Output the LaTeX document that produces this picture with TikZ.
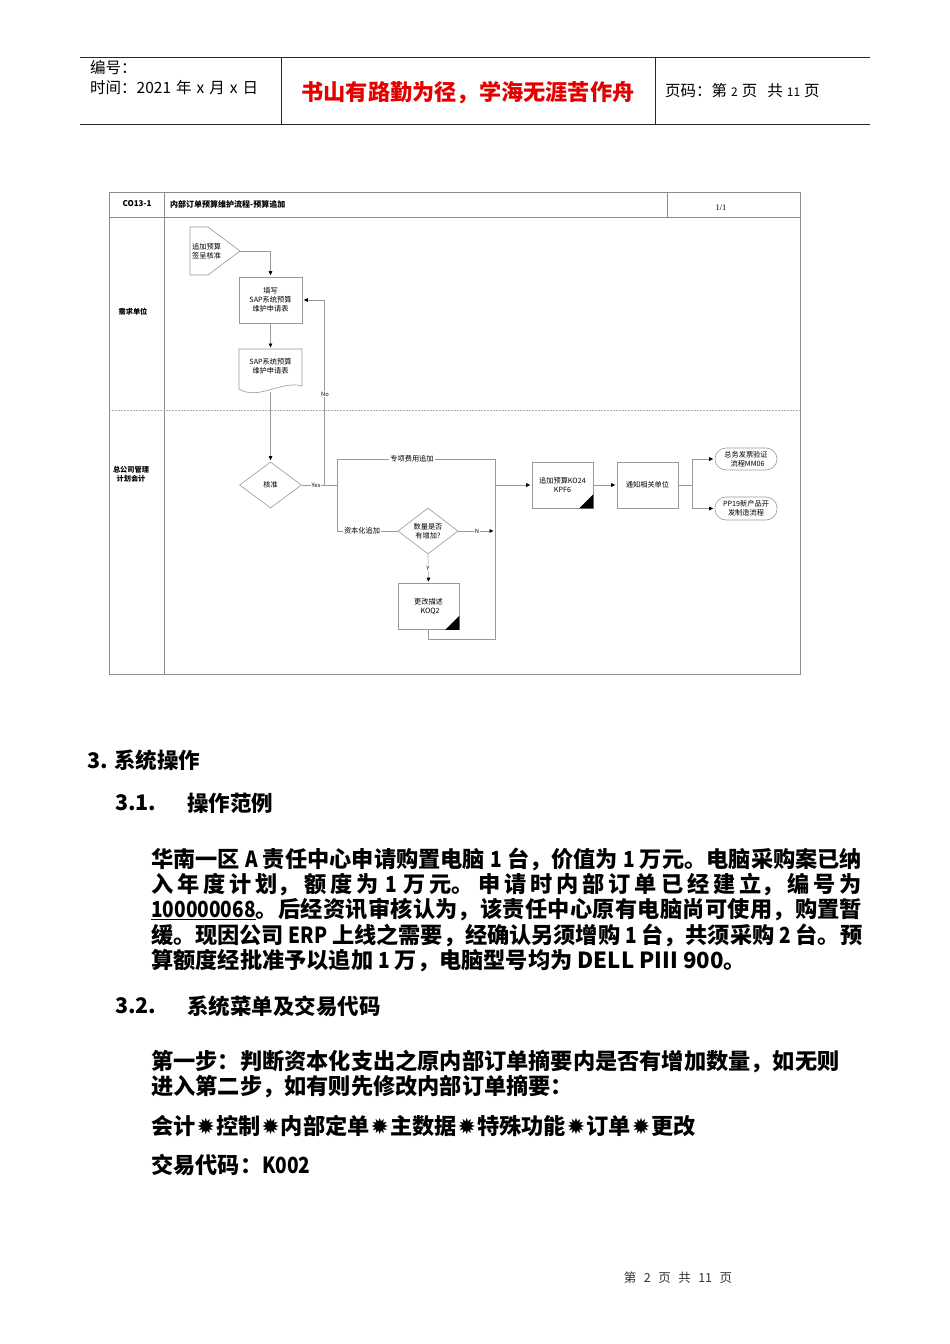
\documentclass[tikz,border=0pt]{standalone}
\usepackage{fontspec}
\usepackage{graphicx}
\setmainfont{Noto Sans CJK SC}
\newfontfamily\dejavu{DejaVu Sans}
\newfontfamily\lserif{Liberation Serif}
\usetikzlibrary{arrows.meta,shapes.geometric}
\newcommand\dfont{\fontsize{7.2}{9}\selectfont}
\newcommand\dsym{\hspace{1pt}{\dejavu\fontsize{22}{22}\selectfont ✹}\hspace{1pt}}
\newcommand\nlat[1]{\scalebox{0.86}[1]{#1}}
\newcommand\jline[1]{\parbox{711pt}{\XeTeXlinebreaklocale "zh"\XeTeXlinebreakskip=0pt plus 6pt minus 0.5pt\parfillskip=0pt\parindent=0pt\noindent #1}}
\tikzset{
  ln/.style={draw=black!40, line width=0.6pt},
  arr/.style={ln, -{Triangle[length=4pt,width=3.6pt,color=black]}, shorten >=1.5pt},
  box/.style={draw=black!40, line width=0.6pt, fill=white, minimum width=61, minimum height=46, inner sep=1pt, align=center, font=\dfont},
  dia/.style={diamond, draw=black!40, line width=0.6pt, fill=white, aspect=1.35, minimum width=62, minimum height=46, inner sep=0pt, align=center, font=\dfont},
  term/.style={draw=black!40, line width=0.6pt, fill=white, rounded corners=11pt, minimum width=62, minimum height=22, inner sep=0pt, align=center, font=\dfont},
  lbl/.style={fill=white, inner sep=1pt, font=\dfont},
  dtext/.style={font=\dfont, align=center, inner sep=0pt},
  hdr/.style={draw=black!85, line width=0.8pt},
  frame/.style={draw=black!45, line width=0.7pt},
  htext/.style={anchor=west, inner sep=0pt, font=\fontsize{15.5}{18}\selectfont},
  body/.style={anchor=west, inner sep=0pt, font=\bfseries\fontsize{22.2}{25.5}\selectfont},
  head/.style={anchor=west, inner sep=0pt, font=\bfseries\fontsize{21.5}{24}\selectfont},
}
\begin{document}
\begin{tikzpicture}[x=1pt,y=-1pt]
\useasboundingbox (0,0) rectangle (950,1344);
\fill[white] (0,0) rectangle (950,1344);

% ---------- header ----------
\draw[hdr] (80,57) -- (870,57);
\draw[hdr] (80,124) -- (870,124);
\draw[hdr] (281,57) -- (281,124);
\draw[hdr] (655,57) -- (655,124);
\node[htext] (hno) at (90,68) {编号：};
\node[htext] (htime) at (90,88) {时间：2021\hspace{5pt}年\hspace{5pt}x\hspace{5pt}月\hspace{5pt}x\hspace{5pt}日};
\node[anchor=center, inner sep=0pt, text=red!90!black, font=\bfseries\fontsize{22.2}{24}\selectfont] (hmotto) at (468,93) {书山有路勤为径，学海无涯苦作舟};
\node[htext] (hpage) at (665,91) {页码：第\hspace{4pt}{\fontsize{12}{14}\selectfont 2}\hspace{4pt}页\hspace{10pt}共\hspace{4pt}{\fontsize{12}{14}\selectfont 11}\hspace{4pt}页};

% ---------- diagram frame ----------
\draw[frame] (109,192) rectangle (800,674);
\draw[frame] (109,217) -- (800,217);
\draw[frame] (164,192) -- (164,674);
\draw[frame] (667,192) -- (667,217);
\draw[draw=black!30, line width=0.5pt, dash pattern=on 2pt off 1pt] (109,410) -- (800,410);
\node[inner sep=0pt, font=\bfseries\fontsize{8}{9}\selectfont] (tid) at (137,204) {CO13-1};
\node[anchor=west, inner sep=0pt, font=\bfseries\fontsize{8}{9}\selectfont] (ttl) at (170,204) {内部订单预算维护流程-预算追加};
\node[inner sep=0pt, font=\lserif\fontsize{8.5}{9}\selectfont] (tpg) at (721,208) {1/1};
\node[inner sep=0pt, font=\bfseries\dfont] (lane1) at (133,312) {需求单位};
\node[inner sep=0pt, align=center, font=\bfseries\dfont] (lane2) at (131,474) {总公司管理\\计划会计};

% off-page connector
\draw[ln, fill=white] (190,227) -- (208,227) -- (240,251) -- (208,275) -- (190,275) -- cycle;
\node[dtext, anchor=west, align=left] (sig) at (192,251) {追加预算\\签呈核准};
\coordinate (sigtip) at (240,251);

% boxes
\node[box, minimum width=63] (fillf) at (270.5,300) {填写\\SAP系统预算\\维护申请表};
\draw[ln, fill=white] (239,349) -- (302,349) -- (302,386) .. controls (282,380) and (258,401) .. (239,389) -- cycle;
\node[dtext] (doc) at (270.5,366) {SAP系统预算\\维护申请表};
\coordinate (doct) at (270.5,349);
\coordinate (docb) at (270.5,392);

\node[dia] (hz) at (270.5,485) {核准};
\node[dia, minimum width=60] (dia2) at (428,531) {数量是否\\有增加?};
\node[box] (koq) at (428.5,606.5) {更改描述\\\ \ KOQ2};
\fill (koq.south east) -- ++(0,-14) -- ++(-14,14) -- cycle;
\node[box] (ko24) at (562.5,485) {追加预算KO24\\KPF6};
\fill (ko24.south east) -- ++(0,-14) -- ++(-14,14) -- cycle;
\node[box] (tz) at (647.5,485) {通知相关单位};
\node[term] (t1) at (746,459) {总务发票验证\\\ \ 流程MM06};
\node[term, minimum height=23] (t2) at (746,508.5) {PP19新产品开\\发制造流程};

% junctions
\coordinate (jno) at (324,485);
\coordinate (j1) at (337,485);
\coordinate (j2) at (495,459);
\coordinate (jb) at (495,639);
\coordinate (jk) at (495,485);
\coordinate (jn) at (495,531);
\coordinate (jt2) at (692,485);

% connectors
\draw[arr] (sigtip) -| (fillf.north);
\draw[arr] (fillf.south) -- (doct);
\draw[arr] (docb) -- (hz.north);
\draw[ln] (hz.east) -- (j1);
\draw[arr] (jno) |- (fillf.east);
\draw[ln] (j1) |- (j2) -- (jb) -| (koq.south);
\draw[ln] (j1) |- (dia2.west);
\draw[arr] (dia2.east) -- (jn);
\draw[arr] (dia2.south) -- (koq.north);
\draw[arr] (jk) -- (ko24.west);
\draw[arr] (ko24.east) -- (tz.west);
\draw[ln] (tz.east) -- (jt2);
\draw[arr] (jt2) |- (t1.west);
\draw[arr] (jt2) |- (t2.west);

% labels
\node[lbl, font=\fontsize{5.8}{6}\selectfont] (lyes) at (316,485) {Yes};
\node[lbl, font=\fontsize{5.8}{6}\selectfont] (lno) at (325,394) {No};
\node[lbl] (lzx) at (412,459) {专项费用追加};
\node[lbl] (lzb) at (362,531) {资本化追加};
\node[lbl, font=\fontsize{5.8}{6}\selectfont] (ln) at (477,531) {N};
\node[lbl, font=\fontsize{5.8}{6}\selectfont] (ly) at (428,568) {Y};

% ---------- body text ----------
\node[head] (s3) at (87,760) {3. 系统操作};
\node[head] (s31) at (115,803) {3.1.};
\node[head] (s31t) at (187,803) {操作范例};
\node[body] (p1) at (151,859) {\jline{华南一区 \nlat{A} 责任中心申请购置电脑 \nlat{1} 台，价值为 \nlat{1} 万元。电脑采购案已纳}};
\node[body] (p2) at (151,884.5) {\jline{入年度计划，额度为 \nlat{1} 万元。申请时内部订单已经建立，编号为}};
\node[body] (p3) at (151,910) {\jline{\underline{\nlat{100000068}}。后经资讯审核认为，该责任中心原有电脑尚可使用，购置暂}};
\node[body] (p4) at (151,935.5) {\jline{缓。现因公司 \nlat{ERP} 上线之需要，经确认另须增购 \nlat{1} 台，共须采购 \nlat{2} 台。预}};
\node[body] (p5) at (151,961) {算额度经批准予以追加 \nlat{1} 万，电脑型号均为 DELL PIII 900。};
\node[head] (s32) at (115,1006) {3.2.};
\node[head] (s32t) at (187,1006) {系统菜单及交易代码};
\node[body] (st1) at (151,1062) {第一步：判断资本化支出之原内部订单摘要内是否有增加数量，如无则};
\node[body] (st2) at (151,1087) {进入第二步，如有则先修改内部订单摘要：};
\node[body] (menu) at (151,1126) {会计\dsym 控制\dsym 内部定单\dsym 主数据\dsym 特殊功能\dsym 订单\dsym 更改};
\node[body] (code) at (151,1165) {交易代码：\nlat{K002}};

% footer
\node[inner sep=0pt, text=black!80, font=\fontsize{12.5}{14}\selectfont] (foot) at (678,1278) {第\hspace{7.5pt}2\hspace{7.5pt}页\hspace{7.5pt}共\hspace{7.5pt}11\hspace{7.5pt}页};
\end{tikzpicture}
\end{document}
